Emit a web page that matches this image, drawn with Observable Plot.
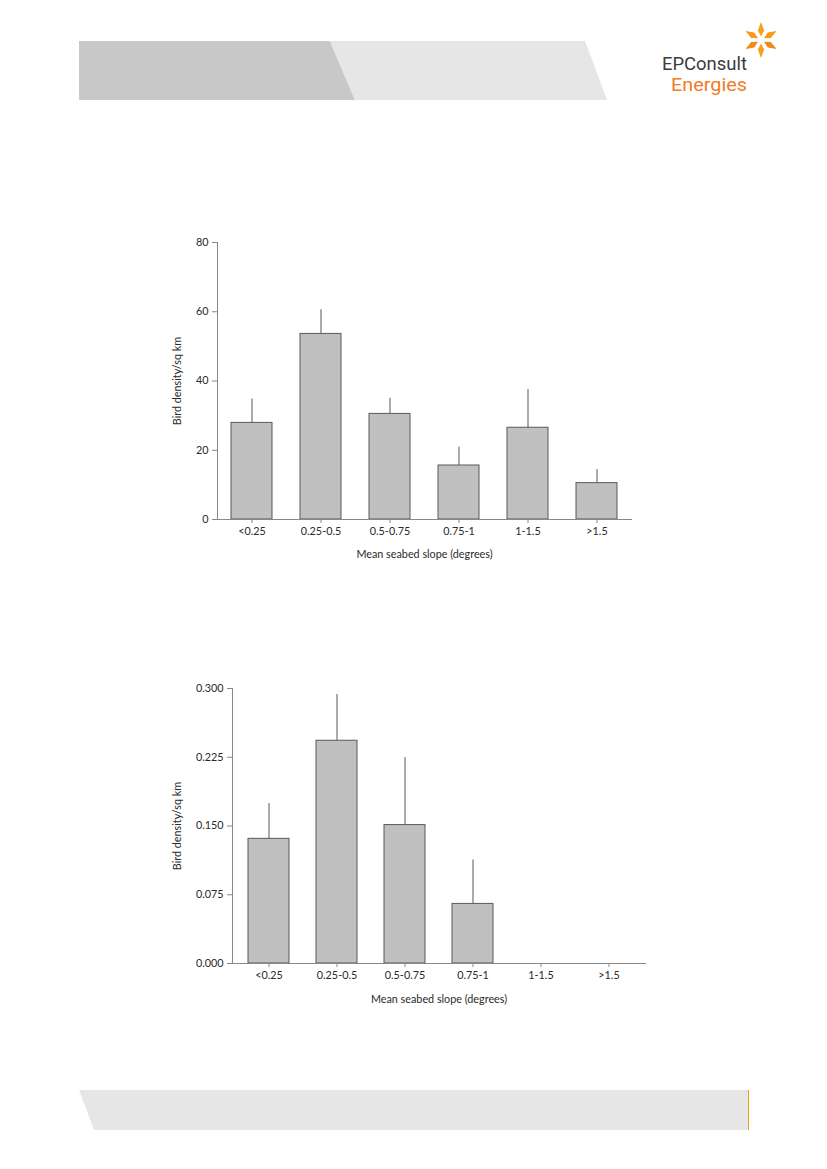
<!DOCTYPE html>
<html><head><meta charset="utf-8">
<script src="https://cdn.jsdelivr.net/npm/d3@7"></script>
<script src="https://cdn.jsdelivr.net/npm/@observablehq/plot@0.6"></script>
<style>
body{margin:0;background:#fff;}
#page{position:relative;width:827px;height:1169px;overflow:hidden;font-family:Lato,sans-serif;background:#fff;}
.chart{position:absolute;}
</style></head><body><div id="page">
<svg id="deco" width="827" height="1169" style="position:absolute;left:0;top:0">
 <polygon points="79,41 330,41 355,100 79,100" fill="#c8c8c8"/>
 <polygon points="330,41 585,41 607,100 355,100" fill="#e6e6e6"/>
 <polygon points="79,1090 748,1090 748,1130 94,1130" fill="#e6e6e6"/>
 <line x1="748.5" y1="1090" x2="748.5" y2="1130" stroke="#f5a000" stroke-width="1"/>
 <g id="star"></g>
 <text x="662" y="70" font-family="'Liberation Sans Narrow', Roboto, sans-serif" font-size="18" fill="#3c3c3c" textLength="85" lengthAdjust="spacingAndGlyphs">EPConsult</text>
 <text x="671" y="91" font-family="'Liberation Sans Narrow', Roboto, sans-serif" font-size="18" fill="#f07c2a" textLength="76" lengthAdjust="spacingAndGlyphs">Energies</text>
</svg>
<div id="c1" class="chart" style="left:160px;top:230px"></div>
<div id="c2" class="chart" style="left:160px;top:670px"></div>
</div>
<script>
// logo star (decoration)
(function(){
  const g = document.getElementById("star");
  const cx = 761, cy = 40;
  const cols = ["#f7a21b","#f59a1a","#f08a1c","#f7a21b","#f08a1c","#f59a1a"];
  for (let i = 0; i < 6; i++) {
    const a = (i * 60 - 90) * Math.PI / 180;
    const p = (r, da) => [cx + r * Math.cos(a + da), cy + r * Math.sin(a + da)];
    const pts = [p(3.5,0), p(10,0.32), p(18,0), p(10,-0.32)].map(q=>q.join(",")).join(" ");
    const el = document.createElementNS("http://www.w3.org/2000/svg","polygon");
    el.setAttribute("points", pts);
    el.setAttribute("fill", cols[i]);
    g.appendChild(el);
  }
})();

const categories = ["<0.25","0.25-0.5","0.5-0.75","0.75-1","1-1.5",">1.5"];
const density1 = [27.9, 53.6, 30.5, 15.6, 26.5, 10.5];
const se1 = [6.9, 7.0, 4.5, 5.3, 11.0, 3.9];
const yTicks1 = [0, 20, 40, 60, 80];
const density2 = [0.136, 0.243, 0.151, 0.065, 0, 0];
const se2 = [0.0385, 0.0505, 0.0736, 0.048, 0, 0];
const yTicks2 = [0, 0.075, 0.15, 0.225, 0.3];
const yLabel = "Bird density/sq km";
const xLabel = "Mean seabed slope (degrees)";

function chart({values, errors, ticks, fmt, width, height, margins, yOff, xOff}) {
  const data = categories.map((c, i) => ({cat: c, v: values[i], hi: values[i] + errors[i]}));
  return Plot.plot({
    width, height, ...margins,
    style: {fontFamily: "Lato, sans-serif", fontSize: "10.8px", color: "#2a2a2a", background: "white", overflow: "visible"},
    x: {type: "band", domain: categories, paddingInner: 0.4, paddingOuter: 0.2},
    y: {domain: [ticks[0], ticks[ticks.length - 1]]},
    marks: [
      Plot.barY(data.filter(d => d.v > 0), {x: "cat", y: "v", fill: "#c0c0c0", stroke: "#595959", strokeWidth: 1}),
      Plot.ruleX(data.filter(d => d.hi > d.v), {x: "cat", y1: "v", y2: "hi", stroke: "#595959", strokeWidth: 1}),
      Plot.axisY({ticks, tickFormat: fmt, tickSize: 5, tickPadding: 4, stroke: "#888",
        label: yLabel, labelAnchor: "center", labelArrow: "none", labelOffset: yOff}),
      Plot.axisX({tickSize: 4, tickPadding: 4, stroke: "#888",
        label: xLabel, labelAnchor: "center", labelArrow: "none", labelOffset: xOff}),
      Plot.frame({anchor: "left", stroke: "#888"}),
      Plot.frame({anchor: "bottom", stroke: "#888"})
    ]
  });
}

document.getElementById("c1").appendChild(chart({
  values: density1, errors: se1, ticks: yTicks1, fmt: d3.format("d"),
  width: 480, height: 340,
  margins: {marginTop: 12, marginRight: 9, marginBottom: 51, marginLeft: 57},
  yOff: 44, xOff: 38
}));
document.getElementById("c2").appendChild(chart({
  values: density2, errors: se2, ticks: yTicks2, fmt: d3.format(".3f"),
  width: 500, height: 350,
  margins: {marginTop: 18, marginRight: 15, marginBottom: 57, marginLeft: 72},
  yOff: 59, xOff: 39
}));
</script>
</body></html>
